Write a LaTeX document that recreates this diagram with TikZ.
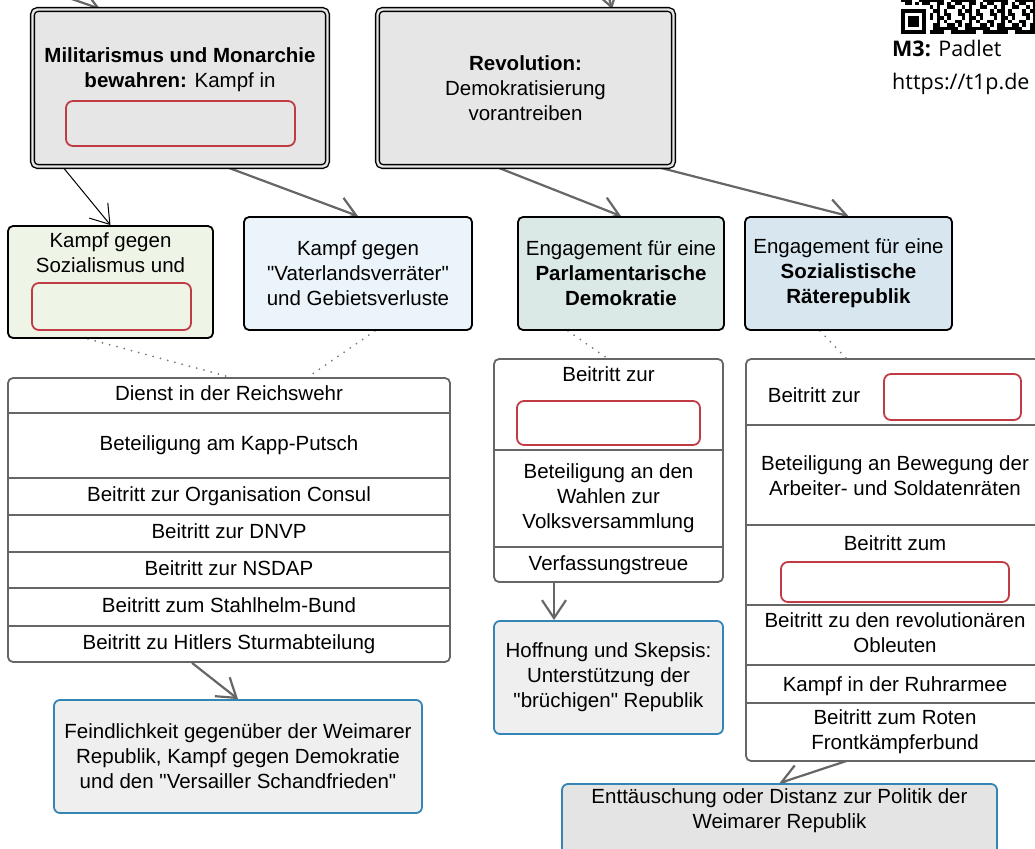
\documentclass[tikz,border=0pt]{standalone}
\usepackage{fontspec}
\setmainfont{Liberation Sans}[Ligatures=TeXOff]
\newfontfamily\padletfont{Open Sans}
\usetikzlibrary{arrows.meta,backgrounds}

\definecolor{topgray}{HTML}{E6E6E6}
\definecolor{greenfill}{HTML}{EEF5E7}
\definecolor{bluefill}{HTML}{EBF4FA}
\definecolor{tealfill}{HTML}{DAE9E6}
\definecolor{steelfill}{HTML}{D8E7EF}
\definecolor{boxred}{HTML}{C13B45}
\definecolor{boxblue}{HTML}{3584B6}
\definecolor{linegray}{HTML}{666666}
\definecolor{resultfill}{HTML}{EFEFEF}
\definecolor{entfill}{HTML}{E4E4E4}
\definecolor{dotgray}{HTML}{7A7A7A}

\begin{document}
\begin{tikzpicture}[x=1pt,y=-1pt,font=\fontsize{20.5}{25}\selectfont,
    topbox/.style={draw=black,double=topgray,double distance=2.4pt,line width=1.4pt,fill=topgray,rounded corners=5pt,inner sep=0pt,align=center},
    aimbox/.style={draw=black,line width=1.8pt,rounded corners=5pt,inner sep=0pt,align=center},
    gapbox/.style={draw=boxred,line width=1.8pt,rounded corners=7pt,inner sep=0pt},
    listbox/.style={draw=linegray,line width=1.8pt,rounded corners=5pt,fill=white,inner sep=0pt},
    listline/.style={linegray,line width=1.8pt},
    rowtext/.style={text height=14.5pt,text depth=4.5pt},
    resultbox/.style={draw=boxblue,line width=1.8pt,rounded corners=6pt,fill=resultfill,inner sep=0pt,align=center},
    flow/.style={linegray,line width=2.2pt,-{Straight Barb[length=18pt,width=24pt]}},
    thinflow/.style={black,line width=1pt,-{Straight Barb[length=18pt,width=24pt]}},
    dotline/.style={dotgray,line width=2pt,line cap=round,dash pattern=on 0pt off 7.5pt}]

    \useasboundingbox (0,0) rectangle (1035,848);

    % top row
    \node[topbox,minimum width=295pt,minimum height=157pt] (milit) at (180,88) {};
    \node[align=center] (militext) at (180,70) {\textbf{Militarismus und Monarchie}\\\textbf{bewahren:} Kampf in};
    \node[gapbox,minimum width=229pt,minimum height=45pt] (militgap) at (180.5,123.5) {};
    \node[topbox,minimum width=296pt,minimum height=157pt] (revol) at (525.5,88) {\textbf{Revolution:}\\Demokratisierung\\vorantreiben};

    % QR code and link
    \fill (901,9) rectangle +(25,25);
    \fill[white] (904.6,12.6) rectangle +(17.8,17.8);
    \fill (908.1,16.1) rectangle +(10.7,10.7);
    \foreach \i in {0,...,37}
      \foreach \j in {0,...,9}{
        \pgfmathtruncatemacro\qron{(\i<8 && \j>1) ? 0 : (mod(\i*\i*7+\j*\j*3+\i*\j*11+\i*5+\j,9)<4)}
        \ifnum\qron=1 \fill (901+\i*3.57,-1.7+\j*3.57) rectangle +(3.6,3.6); \fi
      }
    \node[anchor=base west,inner sep=0pt,font=\padletfont\fontsize{21.5}{26}\selectfont] (padlet) at (892,57) {\textbf{M3:} Padlet};
    \node[anchor=base west,inner sep=0pt,font=\padletfont\fontsize{21.5}{26}\selectfont] (padlink) at (892,90) {https://t1p.de};

    % second row
    \node[aimbox,fill=greenfill,minimum width=205pt,minimum height=112pt] (sozial) at (110.5,282) {};
    \node[align=center] (sozialtext) at (110.5,253) {Kampf gegen\\Sozialismus und};
    \node[gapbox,minimum width=159pt,minimum height=47pt] (sozialgap) at (111.5,306.5) {};
    \node[aimbox,fill=bluefill,minimum width=228pt,minimum height=113pt] (vaterl) at (358,273.5) {Kampf gegen\\"Vaterlandsverräter"\\und Gebietsverluste};
    \node[aimbox,fill=tealfill,minimum width=206pt,minimum height=113pt] (parl) at (621,273.5) {Engagement für eine\\\textbf{Parlamentarische}\\\textbf{Demokratie}};
    \node[aimbox,fill=steelfill,minimum width=207pt,minimum height=113pt] (raete) at (848.5,273.5) {Engagement für eine\\\textbf{Sozialistische}\\\textbf{Räterepublik}};

    % left list
    \node[listbox,minimum width=442pt,minimum height=284pt] (links) at (229,520) {};
    \foreach \y in {413,478,515,552,588,626}
      \draw[listline] (links.west |- 0,\y) -- (links.east |- 0,\y);
    \foreach \t/\y [count=\i] in {Dienst in der Reichswehr/395, Beteiligung am Kapp-Putsch/445, Beitritt zur Organisation Consul/496, Beitritt zur DNVP/533, Beitritt zur NSDAP/570, Beitritt zum Stahlhelm-Bund/607, Beitritt zu Hitlers Sturmabteilung/644}
      \node[rowtext] (links-\i) at (229,\y) {\t};

    % middle list
    \node[listbox,minimum width=229pt,minimum height=223pt] (mitte) at (608.5,470.5) {};
    \foreach \y in {450,547}
      \draw[listline] (mitte.west |- 0,\y) -- (mitte.east |- 0,\y);
    \node[rowtext] (mitte-1) at (608.5,376) {Beitritt zur};
    \node[gapbox,minimum width=183pt,minimum height=44pt] (mittegap) at (608.5,423) {};
    \node[align=center] (mitte-2) at (608.5,498) {Beteiligung an den\\Wahlen zur\\Volksversammlung};
    \node[rowtext] (mitte-3) at (608.5,565) {Verfassungstreue};

    % right list
    \node[listbox,minimum width=298pt,minimum height=402pt] (rechts) at (895,560) {};
    \foreach \y in {425,525,605,665,703}
      \draw[listline] (rechts.west |- 0,\y) -- (rechts.east |- 0,\y);
    \node[rowtext] (rechts-1) at (814,397) {Beitritt zur};
    \node[gapbox,minimum width=137pt,minimum height=46pt] (rechtsgap1) at (952.5,397) {};
    \node[align=center] (rechts-2) at (895,476) {Beteiligung an Bewegung der\\Arbeiter- und Soldatenräten};
    \node[rowtext] (rechts-3) at (895,545) {Beitritt zum};
    \node[gapbox,minimum width=228pt,minimum height=40pt] (rechtsgap2) at (895,582) {};
    \node[align=center] (rechts-4) at (895,633) {Beitritt zu den revolutionären\\Obleuten};
    \node[rowtext] (rechts-5) at (895,686) {Kampf in der Ruhrarmee};
    \node[align=center] (rechts-6) at (895,732) {Beitritt zum Roten\\Frontkämpferbund};

    % results
    \node[resultbox,minimum width=368pt,minimum height=113pt] (feind) at (238,756.5) {Feindlichkeit gegenüber der Weimarer\\Republik, Kampf gegen Demokratie\\und den "Versailler Schandfrieden"};
    \node[resultbox,minimum width=229pt,minimum height=113pt] (hoff) at (608.5,677.5) {Hoffnung und Skepsis:\\Unterstützung der\\"brüchigen" Republik};
    \node[resultbox,fill=entfill,minimum width=435pt,minimum height=86pt] (ent) at (779.5,827) {};
    \node[align=center] (enttext) at (779.5,810.5) {Enttäuschung oder Distanz zur Politik der\\Weimarer Republik};

    % connectors
    \coordinate (inL) at (40,-12);
    \coordinate (inR) at (604,-20);
    \begin{pgfonlayer}{background}
      \draw[flow] (inL) -- ([xshift=-80pt]milit.north);
      \draw[flow] (inR) -- ([xshift=86.5pt]revol.north);
      \draw[thinflow] ([xshift=-117pt]milit.south) -- (sozial.north);
      \draw[flow] ([xshift=47pt]milit.south) -- (vaterl.north);
      \draw[flow] ([xshift=-28.5pt]revol.south) -- (parl.north);
      \draw[flow] ([xshift=132.5pt]revol.south) -- (raete.north);
      \draw[flow] ([xshift=-37pt]links.south) -- (feind.north);
      \draw[flow] ([xshift=-54.5pt]mitte.south) -- ([xshift=-54.5pt]hoff.north);
      \draw[flow] ([yshift=17pt]rechts.south) -- (ent.north);
      % dotted links to the lists
      \draw[dotline] ([xshift=-22.5pt]sozial.south) -- ([xshift=1pt]links.north);
      \draw[dotline] ([xshift=17pt]vaterl.south) -- ([xshift=79pt]links.north);
      \draw[dotline] ([xshift=-53pt]parl.south) -- ([xshift=-1.5pt]mitte.north);
      \draw[dotline] ([xshift=-28.5pt]raete.south) -- (rechtsgap1.west);
    \end{pgfonlayer}
\end{tikzpicture}
\end{document}
